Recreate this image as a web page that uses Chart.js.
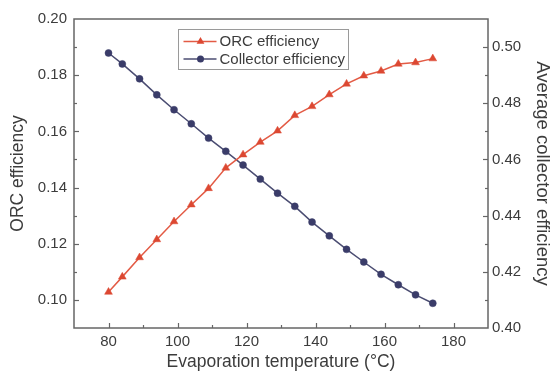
<!DOCTYPE html>
<html>
<head>
<meta charset="utf-8">
<script src="https://cdn.jsdelivr.net/npm/chart.js@4/dist/chart.umd.min.js"></script>
<style>
  body { margin: 0; background: #fff; }
  #wrap { width: 551px; height: 378px; }
</style>
</head>
<body>
<div id="wrap"><canvas id="chart" width="551" height="378"></canvas></div>
<script>
// Evaporation temperature (°C) for each computed point
const evapTemps = [80, 84, 89, 94, 99, 104, 109, 114, 119, 124, 129, 134, 139, 144, 149, 154, 159, 164, 169, 174];

// ORC efficiency (left axis)
const orcEff = [0.1028, 0.1082, 0.1151, 0.1215, 0.1279, 0.1339, 0.1397, 0.1470, 0.1517, 0.1562,
  0.1602, 0.1657, 0.1689, 0.1731, 0.1769, 0.1798, 0.1815, 0.1840, 0.1845, 0.1859];

// Average collector efficiency (right axis)
const collectorEff = [0.4979, 0.4940, 0.4887, 0.4830, 0.4777, 0.4727, 0.4676, 0.4629, 0.4580, 0.4530,
  0.4480, 0.4433, 0.4377, 0.4328, 0.4280, 0.4235, 0.4191, 0.4154, 0.4118, 0.4088];

const seriesLabels = ["ORC efficiency", "Collector efficiency"];
const xTitle = "Evaporation temperature (°C)";
const yLeftTitle = "ORC efficiency";
const yRightTitle = "Average collector efficiency";

const FONT = "'Liberation Sans', Arial, Helvetica, sans-serif";
const AXIS_COLOR = "#666";
const TEXT_COLOR = "#3c3c3c";

const toPoints = (xs, ys) => xs.map((x, i) => ({ x: x, y: ys[i] }));
const isEvenHundredth = (v) => Math.round(v * 100) % 2 === 0;

// Frame, inward major/minor ticks and the boxed legend inside the plot
const frameAndLegend = {
  id: "frameAndLegend",
  afterDraw(chart) {
    const { ctx, chartArea: a } = chart;
    ctx.save();
    ctx.strokeStyle = AXIS_COLOR;
    ctx.lineWidth = 1.5;
    ctx.strokeRect(a.left, a.top, a.right - a.left, a.bottom - a.top);

    ctx.lineWidth = 1.2;
    const xs = chart.scales.x;
    xs.ticks.forEach((t) => {
      if (t.value <= xs.min || t.value >= xs.max) return;
      const len = t.value % 20 === 0 ? 5 : 3;
      const px = Math.round(xs.getPixelForValue(t.value)) + 0.5;
      ctx.beginPath();
      ctx.moveTo(px, a.bottom);
      ctx.lineTo(px, a.bottom - len);
      ctx.stroke();
    });
    [["y", a.left, 1], ["y1", a.right, -1]].forEach(([id, edge, dir]) => {
      const s = chart.scales[id];
      s.ticks.forEach((t) => {
        if (t.value <= s.min + 1e-9 || t.value >= s.max - 1e-9) return;
        const len = isEvenHundredth(t.value) ? 5 : 3;
        const py = Math.round(s.getPixelForValue(t.value)) + 0.5;
        ctx.beginPath();
        ctx.moveTo(edge, py);
        ctx.lineTo(edge + dir * len, py);
        ctx.stroke();
      });
    });

    // legend box
    const lx = a.left + 104.5, ly = a.top + 10.5, lw = 170, lh = 40;
    ctx.fillStyle = "#fff";
    ctx.fillRect(lx, ly, lw, lh);
    ctx.strokeStyle = "#9a9a9a";
    ctx.lineWidth = 1;
    ctx.strokeRect(lx, ly, lw, lh);
    chart.data.datasets.forEach((ds, i) => {
      const cy = ly + 12 + i * 17.5;
      ctx.strokeStyle = ds.borderColor;
      ctx.lineWidth = ds.borderWidth;
      ctx.beginPath();
      ctx.moveTo(lx + 5, cy);
      ctx.lineTo(lx + 38, cy);
      ctx.stroke();
      const mx = lx + 22;
      ctx.fillStyle = ds.pointBackgroundColor;
      ctx.beginPath();
      if (ds.pointStyle === "triangle") {
        const r = ds.pointRadius;
        ctx.moveTo(mx, cy - r);
        ctx.lineTo(mx + r * 0.866, cy + r * 0.5);
        ctx.lineTo(mx - r * 0.866, cy + r * 0.5);
        ctx.closePath();
      } else {
        ctx.arc(mx, cy, ds.pointRadius, 0, Math.PI * 2);
      }
      ctx.fill();
      ctx.fillStyle = TEXT_COLOR;
      ctx.font = "15px " + FONT;
      ctx.textBaseline = "middle";
      ctx.textAlign = "left";
      ctx.fillText(ds.label, lx + 41, cy + 0.5);
    });
    ctx.restore();
  },
};

new Chart(document.getElementById("chart"), {
  type: "line",
  data: {
    datasets: [
      {
        label: seriesLabels[0],
        data: toPoints(evapTemps, orcEff),
        yAxisID: "y",
        borderColor: "#e35b45",
        borderWidth: 1.5,
        pointStyle: "triangle",
        pointRadius: 4.5,
        pointBackgroundColor: "#dc4832",
        pointBorderColor: "#dc4832",
        pointBorderWidth: 0.5,
        tension: 0,
      },
      {
        label: seriesLabels[1],
        data: toPoints(evapTemps, collectorEff),
        yAxisID: "y1",
        borderColor: "#4b4d72",
        borderWidth: 1.5,
        pointStyle: "circle",
        pointRadius: 3.5,
        pointBackgroundColor: "#3a3c69",
        pointBorderColor: "#3a3c69",
        pointBorderWidth: 0.5,
        tension: 0,
      },
    ],
  },
  options: {
    responsive: false,
    animation: false,
    layout: { padding: { top: 19, left: 0, right: 0, bottom: 0 } },
    plugins: { legend: { display: false }, tooltip: { enabled: false } },
    scales: {
      x: {
        type: "linear",
        min: 70,
        max: 190,
        grid: { display: false, drawTicks: false },
        border: { display: false },
        ticks: {
          stepSize: 10,
          autoSkip: false,
          maxRotation: 0,
          padding: 5,
          color: TEXT_COLOR,
          font: { family: FONT, size: 15 },
          callback: (v) => (v % 20 === 0 && v > 70 && v < 190 ? String(v) : ""),
        },
        title: {
          display: true,
          text: xTitle,
          color: TEXT_COLOR,
          font: { family: FONT, size: 17.5, lineHeight: 1 },
          padding: { top: 0, bottom: 7 },
        },
        afterFit: (s) => { s.height = 50; },
      },
      y: {
        position: "left",
        min: 0.09,
        max: 0.2,
        grid: { display: false, drawTicks: false },
        border: { display: false },
        ticks: {
          stepSize: 0.01,
          autoSkip: false,
          padding: 7,
          color: TEXT_COLOR,
          font: { family: FONT, size: 15 },
          callback: (v) => (isEvenHundredth(v) ? v.toFixed(2) : ""),
        },
        title: {
          display: true,
          text: yLeftTitle,
          color: TEXT_COLOR,
          font: { family: FONT, size: 17.5, lineHeight: 1 },
          padding: { top: 9, bottom: 0 },
        },
        afterFit: (s) => { s.width = 74; },
      },
      y1: {
        position: "right",
        min: 0.4,
        max: 0.51,
        grid: { display: false, drawTicks: false },
        border: { display: false },
        ticks: {
          stepSize: 0.01,
          autoSkip: false,
          padding: 4,
          color: TEXT_COLOR,
          font: { family: FONT, size: 15 },
          callback: (v) => (isEvenHundredth(v) && v < 0.505 ? v.toFixed(2) : ""),
        },
        title: {
          display: true,
          text: yRightTitle,
          color: TEXT_COLOR,
          font: { family: FONT, size: 18.5, lineHeight: 1 },
          padding: { top: 0, bottom: 0 },
        },
        afterFit: (s) => { s.width = 63; },
      },
    },
  },
  plugins: [frameAndLegend],
});
</script>
</body>
</html>
